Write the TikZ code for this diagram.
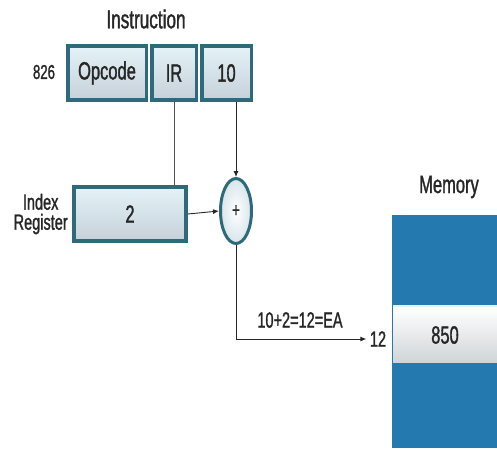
\documentclass[tikz,border=0pt]{standalone}
\usepackage{fontspec}
\setmainfont{Liberation Sans}[FakeStretch=0.66, FakeBold=1.2]
\usetikzlibrary{arrows.meta,positioning,calc,shapes.geometric}

\definecolor{cellrim}{HTML}{2E6A7A}
\definecolor{celltop}{HTML}{E4F3F8}
\definecolor{cellbot}{HTML}{C6D0D8}
\definecolor{memblue}{HTML}{2479AE}
\definecolor{inkgray}{HTML}{262626}

\begin{document}
\begin{tikzpicture}[x=1pt, y=-1pt,
  cell/.style={draw=cellrim, line width=3.5pt, top color=celltop,
    bottom color=cellbot, font=\fontsize{25}{26}\selectfont, text=inkgray,
    minimum height=54pt, inner sep=0pt},
  wordcell/.style={top color=white, bottom color=cellbot!70!gray!60,
    font=\fontsize{25}{26}\selectfont, text=inkgray, minimum width=104pt,
    minimum height=55pt, inner sep=0pt},
  lbl/.style={font=\fontsize{22}{24}\selectfont, align=center, text=inkgray},
  arr/.style={-{Latex[length=6pt,width=5pt]}, draw=inkgray, line width=0.9pt}]
\useasboundingbox (0,0) rectangle (497,448);
% instruction word
\node[cell, minimum width=78.5pt] (opcode) at (107,73) {Opcode};
\node[cell, minimum width=44.5pt] (ireg) at (174,73) {IR};
\node[cell, minimum width=49.5pt] (disp) at (226.5,73) {10};
\node[lbl, font=\fontsize{26}{26}\selectfont] (title) at (146,19) {Instruction};
\node[lbl, font=\fontsize{20}{22}\selectfont] (addr) at (44,72) {826};
% index register and adder
\node[cell, minimum width=112pt] (idx) at (130,214) {2};
\node[lbl, font=\fontsize{22}{20}\selectfont, left=1pt of idx] (idxlbl)
  {Index\\Register};
\node[ellipse, draw=cellrim, line width=3pt, inner color=white,
  outer color=celltop!60!cellbot, minimum width=31pt, minimum height=65pt,
  inner sep=0pt, text=inkgray, font=\fontsize{20}{20}\selectfont] (add)
  at (236,211) {+};
% memory
\node[fill=memblue, minimum width=105pt, minimum height=233pt, inner sep=0pt,
  anchor=north west] (mem) at (392,215) {};
\fill[celltop] (393,305) rectangle (497,309);
\node[wordcell] (word) at (445,335) {850};
\node[lbl, font=\fontsize{25}{26}\selectfont] (memlbl) at (449,187) {Memory};
\node[lbl] (ea) at (378,339) {12};
\node[lbl] (calc) at (300,320) {10+2=12=EA};
% connectors
\draw[inkgray!80, line width=0.9pt] (ireg.south) -- (ireg.south |- idx.north);
\draw[arr] (add.north |- disp.south) -- (add.north);
\draw[arr] (idx.east) -- (add.west);
\draw[arr] (add.south) |- (ea.west);
\end{tikzpicture}
\end{document}
